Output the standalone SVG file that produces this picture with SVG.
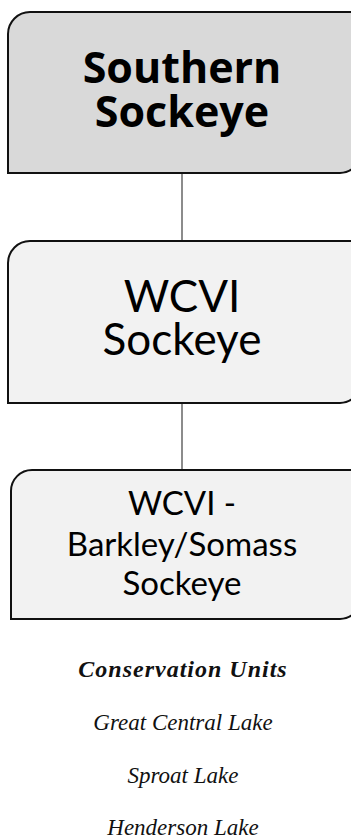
<svg xmlns="http://www.w3.org/2000/svg" width="351" height="839" viewBox="0 0 351 839">
<style>
.box{stroke:#111;stroke-width:2}
.conn{stroke:#8c8c8c;stroke-width:2;fill:none}
.t{font-family:Lato,"Open Sans",sans-serif;text-anchor:middle;fill:#000}
.b{font-family:"Open Sans",Lato,sans-serif;font-weight:bold;text-anchor:middle;fill:#000}
.s{font-family:"Liberation Serif","DejaVu Serif",serif;font-style:italic;text-anchor:middle;fill:#111}
</style>
<rect width="351" height="839" fill="#fff"/>
<g id="connectors">
<line class="conn" x1="182" y1="173" x2="182" y2="241"/>
<line class="conn" x1="182" y1="403" x2="182" y2="470"/>
</g>
<g id="node1">
<path class="box" fill="#d9d9d9" d="M8,173 V34 A22,22 0 0 1 30,12 H360 V153 A20,20 0 0 1 340,173 Z"/>
<text class="b" x="182" y="83" font-size="43">Southern</text>
<text class="b" x="182" y="127" font-size="43">Sockeye</text>
</g>
<g id="node2">
<path class="box" fill="#f2f2f2" d="M8,403 V263 A22,22 0 0 1 30,241 H360 V383 A20,20 0 0 1 340,403 Z"/>
<text class="t" x="182" y="312" font-size="44">WCVI</text>
<text class="t" x="182" y="355" font-size="44">Sockeye</text>
</g>
<g id="node3">
<path class="box" fill="#f2f2f2" d="M11,619 V491 A21,21 0 0 1 32,470 H360 V599 A20,20 0 0 1 340,619 Z"/>
<text class="t" x="182" y="515" font-size="33">WCVI -</text>
<text class="t" x="182" y="556" font-size="33">Barkley/Somass</text>
<text class="t" x="182" y="595" font-size="33">Sockeye</text>
</g>
<g id="legend">
<text class="s" x="183" y="677" font-size="24" font-weight="bold" letter-spacing="1">Conservation Units</text>
<text class="s" x="183" y="730" font-size="23">Great Central Lake</text>
<text class="s" x="183" y="783" font-size="23">Sproat Lake</text>
<text class="s" x="183" y="835" font-size="23">Henderson Lake</text>
</g>
</svg>
